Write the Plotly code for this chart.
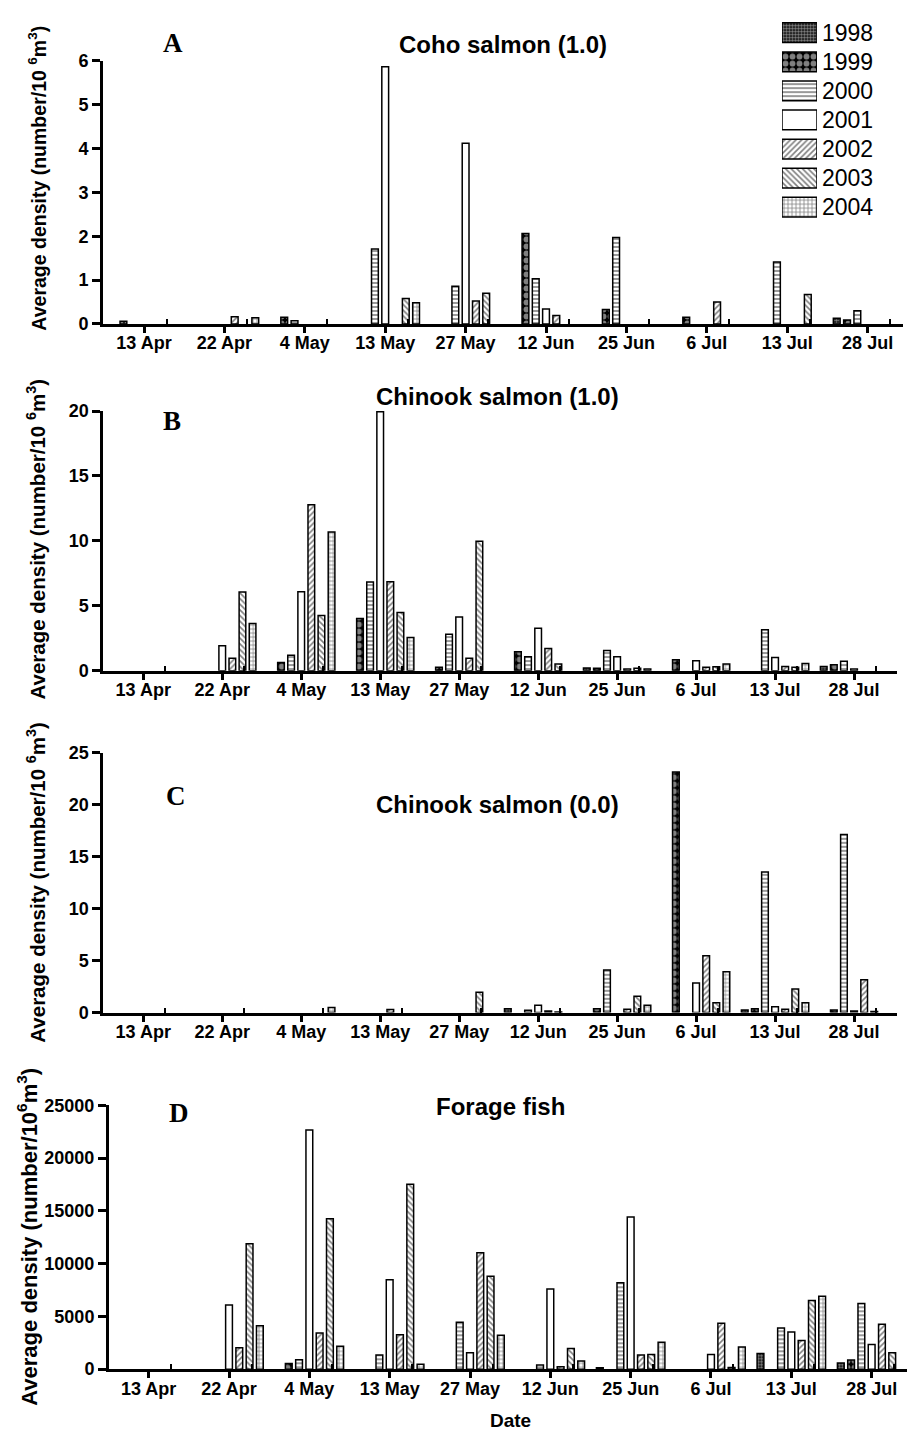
import plotly.graph_objects as go

# ---------------------------------------------------------------- data
dates = ["13 Apr", "22 Apr", "4 May", "13 May", "27 May",
         "12 Jun", "25 Jun", "6 Jul", "13 Jul", "28 Jul"]
years = ["1998", "1999", "2000", "2001", "2002", "2003", "2004"]

# Coho salmon (1.0), number / 10^6 m^3
coho_10 = {
    "1998": [0, 0, 0, 0, 0, 0, 0, 0, 0, 0.13],
    "1999": [0.06, 0, 0.15, 0, 0, 2.06, 0.33, 0.15, 0, 0.09],
    "2000": [0, 0, 0.07, 1.71, 0.86, 1.03, 1.97, 0, 1.41, 0.30],
    "2001": [0, 0, 0, 5.87, 4.12, 0.34, 0, 0, 0, 0],
    "2002": [0, 0.16, 0, 0, 0.52, 0.19, 0, 0.50, 0, 0],
    "2003": [0, 0, 0, 0.58, 0.70, 0, 0, 0, 0.67, 0],
    "2004": [0, 0.14, 0, 0.48, 0, 0, 0, 0, 0, 0],
}

# Chinook salmon (1.0)
chinook_10 = {
    "1998": [0, 0, 0, 0, 0, 0, 0.20, 0, 0, 0.33],
    "1999": [0, 0, 0.64, 4.02, 0.26, 1.46, 0.18, 0.84, 0, 0.46],
    "2000": [0, 0, 1.20, 6.83, 2.81, 1.07, 1.56, 0, 3.15, 0.72],
    "2001": [0, 1.92, 6.09, 19.95, 4.14, 3.27, 1.07, 0.77, 1.02, 0.13],
    "2002": [0, 0.95, 12.79, 6.85, 0.95, 1.71, 0.13, 0.26, 0.33, 0],
    "2003": [0, 6.06, 4.25, 4.48, 9.97, 0.51, 0.18, 0.31, 0.26, 0],
    "2004": [0, 3.63, 10.69, 2.56, 0, 0, 0.13, 0.51, 0.56, 0],
}

# Chinook salmon (0.0)
chinook_00 = {
    "1998": [0, 0, 0, 0, 0, 0.38, 0, 0, 0.25, 0],
    "1999": [0, 0, 0, 0, 0, 0, 0.38, 23.16, 0.38, 0.25],
    "2000": [0, 0, 0, 0, 0, 0.22, 4.11, 0, 13.54, 17.15],
    "2001": [0, 0, 0, 0, 0, 0.70, 0, 2.85, 0.57, 0.16],
    "2002": [0, 0, 0, 0.30, 0, 0.16, 0.32, 5.47, 0.32, 3.16],
    "2003": [0, 0, 0, 0, 1.96, 0.05, 1.58, 0.95, 2.28, 0.10],
    "2004": [0, 0, 0.50, 0, 0, 0, 0.70, 3.92, 0.95, 0],
}

# Forage fish
forage = {
    "1998": [0, 0, 0, 0, 0, 0, 125, 0, 1490, 590],
    "1999": [0, 0, 530, 0, 0, 0, 0, 0, 0, 870],
    "2000": [0, 0, 900, 1340, 4450, 400, 8190, 0, 3890, 6225],
    "2001": [0, 6070, 22665, 8470, 1560, 7600, 14410, 1400, 3520, 2335],
    "2002": [0, 2024, 3425, 3270, 11020, 220, 1340, 4360, 2710, 4265],
    "2003": [0, 11893, 14260, 17530, 8810, 1960, 1400, 150, 6505, 1560],
    "2004": [0, 4110, 2180, 470, 3210, 780, 2550, 2090, 6910, 0],
}

panel_titles = ["Coho salmon (1.0)", "Chinook salmon (1.0)",
                "Chinook salmon (0.0)", "Forage fish"]
panel_letters = ["A", "B", "C", "D"]
y_ranges = [(0, 6), (0, 20), (0, 25), (0, 25000)]
y_steps = [1, 5, 5, 5000]

# ---------------------------------------------------------------- styles
W, H = 907, 1441
SANS = "Liberation Sans, Arial, sans-serif"
SERIF = "Liberation Serif, Times New Roman, serif"

PATTERN = {
    "1998": dict(shape=".", size=3, solidity=0.6, fgcolor="white", bgcolor="black"),
    "1999": dict(shape=".", size=7, solidity=0.55, fgcolor="white", bgcolor="black"),
    "2000": dict(shape="-", size=4, solidity=0.4, fgcolor="black", bgcolor="white"),
    "2001": dict(shape="", fgcolor="black", bgcolor="white"),
    "2002": dict(shape="/", size=4, solidity=0.4, fgcolor="black", bgcolor="white"),
    "2003": dict(shape="\\", size=4, solidity=0.4, fgcolor="black", bgcolor="white"),
    "2004": dict(shape="+", size=4, solidity=0.35, fgcolor="black", bgcolor="white"),
}

# plot-area boxes in pixels: (left, right, top, bottom) and x ranges
boxes = [(103, 903, 51.7, 318.3),
         (103.3, 896.7, 406.7, 670),
         (103.3, 896.7, 753.3, 1016.7),
         (109, 907, 1110.7, 1378.3)]
x_ranges = [(-0.51, 9.44), (-0.506, 9.54), (-0.506, 9.54), (-0.494, 9.44)]


def xdom(a, b):
    return [a / W, b / W]


def ydom(top, bottom):
    return [1 - bottom / H, 1 - top / H]


fig = go.Figure()
groups = list(range(len(dates)))
series = [coho_10, chinook_10, chinook_00, forage]

for p, data in enumerate(series):
    xa = "x" if p == 0 else f"x{p + 1}"
    ya = "y" if p == 0 else f"y{p + 1}"
    for yr in years:
        vals = [v if v else None for v in data[yr]]
        fig.add_trace(go.Bar(
            x=groups, y=vals, xaxis=xa, yaxis=ya, name=yr,
            marker=dict(color="white", line=dict(color="black", width=1.5),
                        pattern=PATTERN[yr]),
            showlegend=False, hoverinfo="skip"))

    left, right, top, bottom = boxes[p]
    key = "" if p == 0 else str(p + 1)
    fig.layout["xaxis" + key] = dict(
        domain=xdom(left, right), range=list(x_ranges[p]), anchor=ya,
        tickmode="array", tickvals=groups, ticktext=dates,
        ticks="outside", ticklen=6, tickwidth=3, tickcolor="black",
        ticklabelstandoff=-5,
        showline=True, linewidth=3, linecolor="black", showgrid=False,
        zeroline=False,
        tickfont=dict(family=SANS, size=18, color="black", weight="bold"),
        minor=dict(tickmode="array", tickvals=[g + 0.28 for g in groups],
                   ticks="inside", ticklen=5, tickwidth=1.5, tickcolor="black",
                   showgrid=False),
    )
    fig.layout["yaxis" + key] = dict(
        domain=ydom(top, bottom), range=list(y_ranges[p]), anchor=xa,
        tickmode="linear", tick0=0, dtick=y_steps[p], tickformat="d",
        ticks="outside", ticklen=8, tickwidth=3, tickcolor="black",
        showline=True, linewidth=3, linecolor="black", showgrid=False,
        zeroline=False,
        tickfont=dict(family=SANS, size=18, color="black", weight="bold"),
    )

# legend swatches (one patterned bar per year)
fig.add_trace(go.Bar(
    x=[1] * len(years), y=list(range(len(years))), orientation="h",
    xaxis="x5", yaxis="y5", width=0.68, base=0,
    marker=dict(color="white", line=dict(color="black", width=1.5),
                pattern=dict(
                    shape=[PATTERN[y]["shape"] for y in years],
                    size=[PATTERN[y].get("size", 4) for y in years],
                    solidity=[PATTERN[y].get("solidity", 0.3) for y in years],
                    fgcolor=[PATTERN[y]["fgcolor"] for y in years],
                    bgcolor=[PATTERN[y]["bgcolor"] for y in years])),
    showlegend=False, hoverinfo="skip"))
fig.layout["xaxis5"] = dict(domain=xdom(782, 817), range=[0, 1], visible=False,
                            anchor="y5")
fig.layout["yaxis5"] = dict(domain=ydom(8.25, 214.75), range=[6.5, -0.5],
                            visible=False, anchor="x5")

annotations = []
for k, yr in enumerate(years):
    annotations.append(dict(
        x=820 / W, xref="paper", y=k, yref="y5", text=yr, showarrow=False,
        xanchor="left", yanchor="middle",
        font=dict(family=SANS, size=23, color="black")))

title_pos = [(503, 35), (497, 392), (497, 806), (500, 1112)]
letter_pos = [(173, 33), (172, 417), (176, 797), (179, 1119)]
ytitle_pos = [(37, 171), (36, 537), (36, 885), (27, 1244)]
ytitle_size = [19.5, 20.5, 20.5, 22]
ytitle_text = ["Average density (number/10 <sup>6</sup>m<sup>3</sup>)"] * 3 + \
              ["Average density (number/10<sup>6</sup>m<sup>3</sup>)"]

for p in range(4):
    tx, ty = title_pos[p]
    annotations.append(dict(
        x=tx / W, y=1 - ty / H, xref="paper", yref="paper", text=panel_titles[p],
        showarrow=False, xanchor="center", yanchor="middle",
        font=dict(family=SANS, size=24, color="black", weight="bold")))
    lx, ly = letter_pos[p]
    annotations.append(dict(
        x=lx / W, y=1 - ly / H, xref="paper", yref="paper", text=panel_letters[p],
        showarrow=False, xanchor="center", yanchor="middle",
        font=dict(family=SERIF, size=27, color="black", weight="bold")))
    ax, ay = ytitle_pos[p]
    annotations.append(dict(
        x=ax / W, y=1 - ay / H, xref="paper", yref="paper", text=ytitle_text[p],
        showarrow=False, xanchor="center", yanchor="middle", textangle=-90,
        font=dict(family=SANS, size=ytitle_size[p], color="black", weight="bold")))

annotations.append(dict(
    x=510 / W, y=1 - 1430 / H, xref="paper", yref="paper", text="Date",
    showarrow=False, xanchor="center", yanchor="middle",
    font=dict(family=SANS, size=19, color="black", weight="bold")))

fig.update_layout(
    width=W, height=H, margin=dict(l=0, r=0, t=0, b=0),
    paper_bgcolor="white", plot_bgcolor="white",
    barmode="group", bargap=0.104, bargroupgap=0.34,
    annotations=annotations, showlegend=False,
)

fig.write_html("out.html")
